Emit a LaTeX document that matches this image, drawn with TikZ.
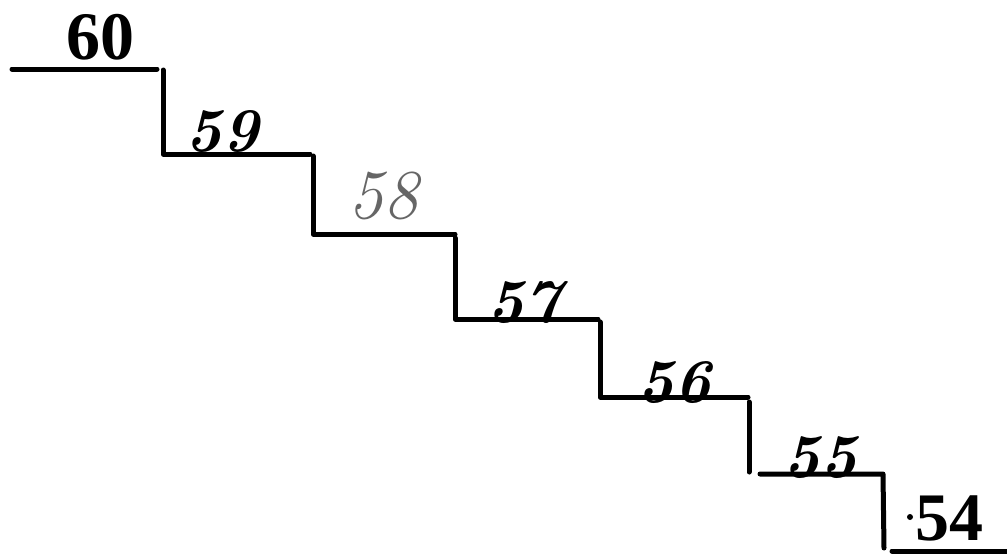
\documentclass[tikz,border=0pt]{standalone}
\usepackage{fontspec}
\setmainfont{Liberation Serif}
\newfontfamily\handfont{Latin Modern Roman}
\tikzset{
  stair/.style={line width=5pt, line cap=round, line join=round, black},
  printed/.style={font=\bfseries\fontsize{68}{68}\selectfont, inner sep=0pt},
  hand/.style={font=\handfont\bfseries\itshape\fontsize{62}{62}\selectfont, inner sep=0pt},
  dotted hand/.style={font=\handfont\itshape\fontsize{70}{70}\selectfont, inner sep=0pt, text=black!60}
}
\begin{document}
\begin{tikzpicture}[x=1pt,y=-1pt]
\useasboundingbox (0,0) rectangle (1007,554);
\draw[stair] (12,69) -- (157,69);
\draw[stair] (163,70) -- (163,154) -- (310,154);
\draw[stair] (313,156) -- (313,234) -- (455,234);
\draw[stair] (455,238) -- (455,319) -- (598,319);
\draw[stair] (600,322) -- (600,397) -- (748,397);
\draw[stair] (749,402) -- (749,472);
\draw[stair] (760,474) -- (883,474) -- (884,548);
\draw[stair] (892,551) -- (1007,551);
\node[printed] (n60) at (100,37) {60};
\node[hand] (n59) at (222,132) {59};
\node[dotted hand] (n58) at (383,196) {58};
\node[hand] (n57) at (524,303) {57};
\node[hand] (n56) at (674,383) {56};
\node[hand] (n55) at (820,458) {55};
\node[printed] (n54) at (949,518) {54};
\fill (910,517) circle (3pt);
\end{tikzpicture}
\end{document}
